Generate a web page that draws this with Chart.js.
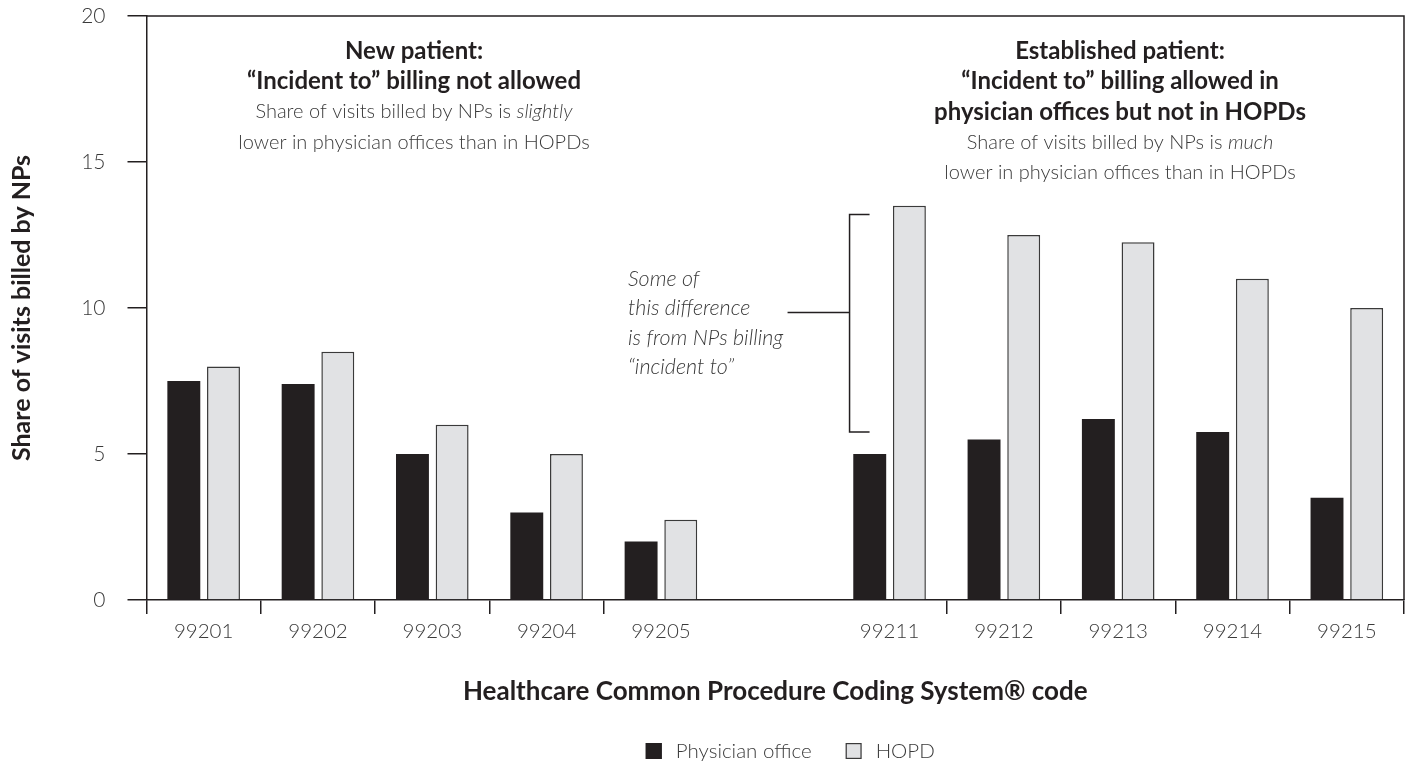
<!DOCTYPE html>
<html>
<head>
<meta charset="utf-8">
<script src="https://cdn.jsdelivr.net/npm/chart.js@4.4.1/dist/chart.umd.min.js"></script>
<style>
  html, body { margin: 0; padding: 0; background: #fff; }
  #wrap { width: 1411px; height: 763px; position: relative; }
</style>
</head>
<body>
<div id="wrap"><canvas id="myChart"></canvas></div>
<script>
const codes = ['99201', '99202', '99203', '99204', '99205', '', '99211', '99212', '99213', '99214', '99215'];
const physicianOffice = [7.5, 7.4, 5.0, 3.0, 2.0, null, 5.0, 5.5, 6.2, 5.75, 3.5];
const hopd = [8.0, 8.5, 6.0, 5.0, 2.75, null, 13.5, 12.5, 12.25, 11.0, 10.0];
const yTicks = [0, 5, 10, 15, 20];
const seriesNames = ['Physician office', 'HOPD'];
// bracket next to the 99211 bars (values on the y axis)
const bracketRange = [5.75, 13.2];
const bracketArm = 9.85;

const INK = '#231f20';
const TEXT = '#3a3a3a';
const BOLD = '700 24px Lato';
const LIGHT = '300 20px Lato';
const LIGHT_IT = 'italic 300 20px Lato';

function richLine(ctx, parts, cx, y) {
    let total = 0;
    parts.forEach(p => { ctx.font = p.font; total += ctx.measureText(p.text).width; });
    let x = cx - total / 2;
    parts.forEach(p => {
        ctx.font = p.font;
        ctx.fillStyle = p.color;
        ctx.fillText(p.text, x, y);
        x += ctx.measureText(p.text).width;
    });
}

const notesPlugin = {
    id: 'notes',
    afterDraw(chart) {
        const ctx = chart.ctx;
        const {left, right, top, bottom} = chart.chartArea;
        const x = chart.scales.x, y = chart.scales.y;
        ctx.save();

        // top and right frame
        ctx.strokeStyle = INK;
        ctx.lineWidth = 1.5;
        ctx.beginPath();
        ctx.moveTo(left, top);
        ctx.lineTo(right, top);
        ctx.lineTo(right, bottom);
        ctx.stroke();

        // bracket
        const catW = x.width / codes.length;
        const bx = x.getPixelForValue(6) - 0.35 * catW;
        const yTop = y.getPixelForValue(bracketRange[1]);
        const yBot = y.getPixelForValue(bracketRange[0]);
        const yArm = y.getPixelForValue(bracketArm);
        ctx.beginPath();
        ctx.moveTo(bx + 20, yTop);
        ctx.lineTo(bx, yTop);
        ctx.lineTo(bx, yBot);
        ctx.lineTo(bx + 20, yBot);
        ctx.moveTo(bx, yArm);
        ctx.lineTo(bx - 62, yArm);
        ctx.stroke();

        ctx.textBaseline = 'middle';
        ctx.textAlign = 'left';
        ctx.font = 'italic 300 21.5px Lato';
        ctx.fillStyle = TEXT;
        ['Some of', 'this difference', 'is from NPs billing', '\u201cincident to\u201d'].forEach((t, i) => {
            ctx.fillText(t, 628, 279 + i * 29.5);
        });

        // group headings
        const b = t => ({text: t, font: BOLD, color: INK});
        const l = t => ({text: t, font: LIGHT, color: TEXT});
        const it = t => ({text: t, font: LIGHT_IT, color: TEXT});
        const leftLines = [
            [b('New patient:')],
            [b('\u201cIncident to\u201d billing not allowed')],
            [l('Share of visits billed by NPs is '), it('slightly')],
            [l('lower in physician offices than in HOPDs')]
        ];
        const rightLines = [
            [b('Established patient:')],
            [b('\u201cIncident to\u201d billing allowed in')],
            [b('physician offices but not in HOPDs')],
            [l('Share of visits billed by NPs is '), it('much')],
            [l('lower in physician offices than in HOPDs')]
        ];
        leftLines.forEach((parts, i) => richLine(ctx, parts, 414, 51 + i * 30.5));
        rightLines.forEach((parts, i) => richLine(ctx, parts, 1120, 51 + i * 30.5));

        // legend
        const colors = [[INK, INK], ['#e1e2e4', '#3a3a3a']];
        ctx.font = '300 20.5px Lato';
        const box = 16, gapText = 14, gapItem = 34;
        let total = 0;
        seriesNames.forEach((n, i) => {
            total += box + gapText + ctx.measureText(n).width + (i ? 0 : gapItem);
        });
        let lx = (left + right) / 2 + 15 - total / 2;
        const ly = 751;
        seriesNames.forEach((n, i) => {
            ctx.fillStyle = colors[i][0];
            ctx.fillRect(lx, ly - box / 2, box, box);
            ctx.strokeStyle = colors[i][1];
            ctx.lineWidth = 1.2;
            ctx.strokeRect(lx + 0.6, ly - box / 2 + 0.6, box - 1.2, box - 1.2);
            lx += box + gapText;
            ctx.fillStyle = TEXT;
            ctx.fillText(n, lx, ly);
            lx += ctx.measureText(n).width + gapItem;
        });
        ctx.restore();
    }
};

const ctx = document.getElementById('myChart').getContext('2d');
new Chart(ctx, {
    type: 'bar',
    data: {
        labels: codes,
        datasets: [{
            label: seriesNames[0],
            data: physicianOffice,
            backgroundColor: INK,
            borderWidth: 0
        }, {
            label: seriesNames[1],
            data: hopd,
            backgroundColor: '#e1e2e4',
            borderColor: '#3a3a3a',
            borderWidth: 1.5,
            borderSkipped: 'bottom'
        }]
    },
    options: {
        responsive: true,
        maintainAspectRatio: false,
        animation: false,
        devicePixelRatio: 1,
        categoryPercentage: 0.694,
        barPercentage: 0.83,
        layout: { padding: { top: 16, right: 7, left: 0, bottom: 0 } },
        plugins: {
            legend: { display: false },
            tooltip: { enabled: false }
        },
        scales: {
            x: {
                grid: {
                    drawOnChartArea: false,
                    drawTicks: true,
                    tickLength: 14,
                    offset: true,
                    lineWidth: 1.5,
                    color: c => (c.index === 5 || c.index === 6) ? 'rgba(0,0,0,0)' : INK
                },
                border: { display: true, color: INK, width: 1.5 },
                ticks: {
                    color: TEXT,
                    font: { family: 'Lato', weight: 300, size: 20.5 },
                    padding: 5,
                    autoSkip: false,
                    maxRotation: 0
                },
                title: {
                    display: true,
                    text: 'Healthcare Common Procedure Coding System\u00ae code',
                    color: INK,
                    font: { family: 'Lato', weight: 'bold', size: 26 },
                    padding: { top: 4, bottom: 56 }
                },
                afterFit: s => { s.height = 163; }
            },
            y: {
                min: 0,
                max: 20,
                afterBuildTicks: s => { s.ticks = yTicks.map(v => ({ value: v })); },
                grid: {
                    drawOnChartArea: false,
                    drawTicks: true,
                    tickLength: 19,
                    lineWidth: 1.5,
                    color: INK
                },
                border: { display: true, color: INK, width: 1.5 },
                ticks: {
                    color: TEXT,
                    font: { family: 'Lato', weight: 300, size: 21 },
                    padding: 22
                },
                title: {
                    display: true,
                    text: 'Share of visits billed by NPs',
                    color: INK,
                    font: { family: 'Lato', weight: 'bold', size: 25 },
                    padding: { top: 7, bottom: 0 }
                },
                afterFit: s => {
                    s.width = 146.5;
                    // tick padding only moves labels sideways, not the plot top
                    s.paddingTop = 12;
                    s.paddingBottom = 12;
                }
            }
        }
    },
    plugins: [notesPlugin]
});
</script>
</body>
</html>
